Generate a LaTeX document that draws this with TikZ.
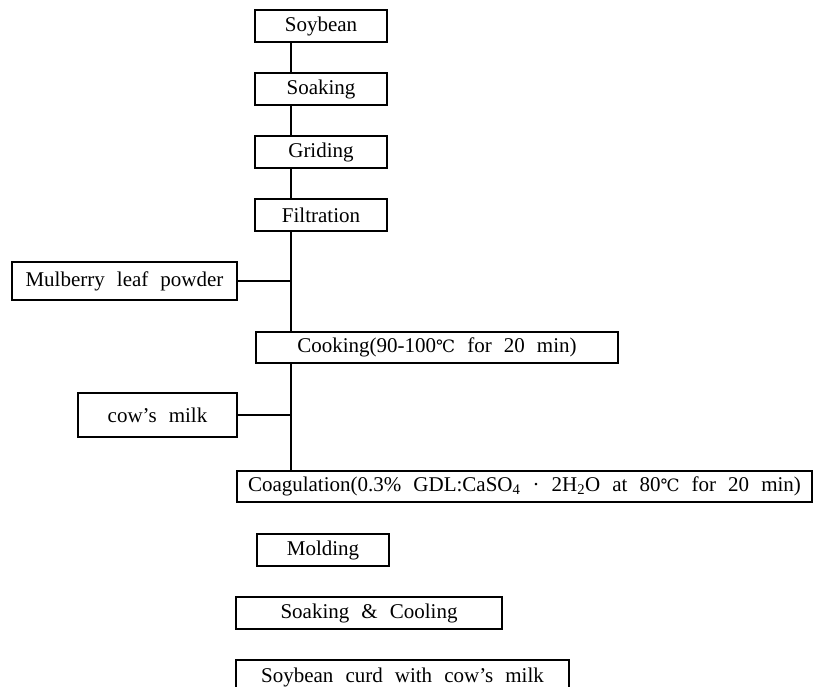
\documentclass[tikz,border=0pt]{standalone}
\usepackage{fontspec}
\setmainfont{Liberation Serif}[WordSpace=2.3]
\newfontfamily\degfont{DejaVu Serif}
\newcommand{\degC}{{\degfont\fontsize{17}{20}\selectfont ℃}}
\begin{document}
\begin{tikzpicture}[x=1pt,y=-1pt,
  box/.style={draw, line width=1.1pt, inner sep=0pt, font=\fontsize{21}{24}\selectfont, anchor=center},
  link/.style={line width=1.1pt}]
\fill[white] (0,0) rectangle (838,687);
\useasboundingbox (0,0) rectangle (838,687);
\coordinate (spine) at (291,0);
\node[box, minimum width=132pt, minimum height=32pt] (soy) at (321,26) {Soybean};
\node[box, minimum width=132pt, minimum height=32pt] (soak) at (321,89) {Soaking};
\node[box, minimum width=132pt, minimum height=32pt] (grid) at (321,152) {Griding};
\node[box, minimum width=132pt, minimum height=32pt] (filt) at (321,215) {Filtration};
\node[box, minimum width=225pt, minimum height=38pt] (mul) at (124.5,281) {Mulberry leaf powder};
\node[box, minimum width=362pt, minimum height=31pt] (cook) at (437,347.5) {Cooking(90-100\degC\ for 20 min)};
\node[box, minimum width=159pt, minimum height=44pt] (milk) at (157.5,415) {cow’s milk};
\node[box, minimum width=575pt, minimum height=31pt] (coag) at (524.5,486.5) {Coagulation(0.3\% GDL:CaSO\textsubscript{4} · 2H\textsubscript{2}O at 80\degC\ for 20 min)};
\node[box, minimum width=132pt, minimum height=32pt] (mold) at (323,550) {Molding};
\node[box, minimum width=266pt, minimum height=32pt] (cool) at (369,613) {Soaking \& Cooling};
\node[box, minimum width=333pt, minimum height=40pt] (curd) at (402.5,680) {\raisebox{10pt}{Soybean curd with cow’s milk}};
\draw[link] (soy.south -| spine) -- (soak.north -| spine);
\draw[link] (soak.south -| spine) -- (grid.north -| spine);
\draw[link] (grid.south -| spine) -- (filt.north -| spine);
\draw[link] (filt.south -| spine) -- (cook.north -| spine);
\draw[link] (mul.east) -- (mul.east -| spine);
\draw[link] (cook.south -| spine) -- (coag.north -| spine);
\draw[link] (milk.east) -- (milk.east -| spine);
\end{tikzpicture}
\end{document}
